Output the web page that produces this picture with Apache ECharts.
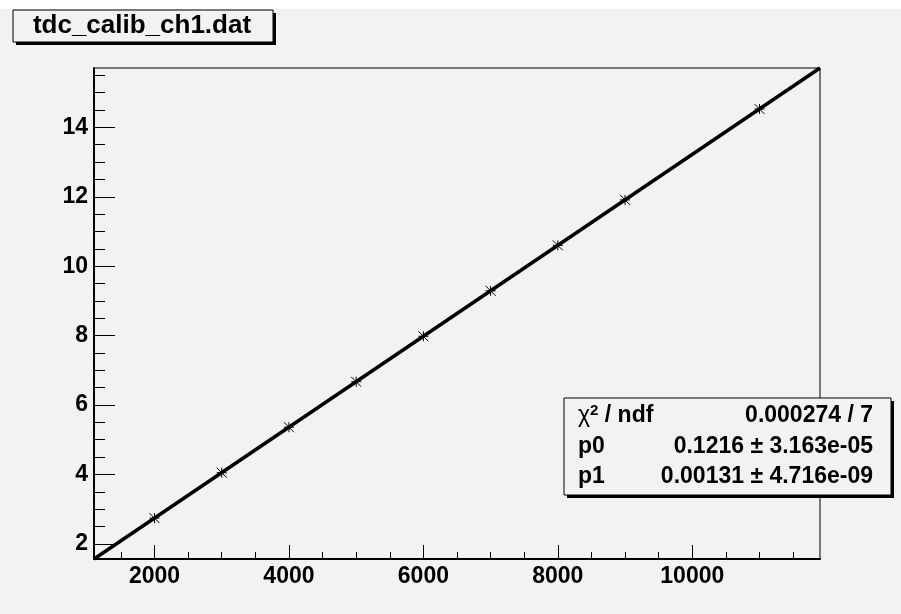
<!DOCTYPE html>
<html>
<head>
<meta charset="utf-8">
<script src="https://cdn.jsdelivr.net/npm/echarts@6/dist/echarts.min.js"></script>
<style>
  html, body { margin: 0; padding: 0; background: #f2f2f2; }
  #chart { width: 901px; height: 614px; }
</style>
</head>
<body>
<div id="chart"></div>
<script>
// Calibration points: TDC channel vs. delay
const tdcChannels = [2000, 3000, 4000, 5000, 6000, 7000, 8000, 9000, 11000];
const delayValues = [2.74, 4.05, 5.36, 6.67, 7.98, 9.29, 10.60, 11.91, 14.53];

// Linear fit parameters (pol1: p0 + p1*x)
const fitP0 = 0.1216;
const fitP1 = 0.00131;

// Axis ranges and tick marks
const xRange = [1100, 11900];
const yRange = [1.5626, 15.7106];
const xMajorTicks = [2000, 4000, 6000, 8000, 10000];
const xMinorTicks = [1500, 2000, 2500, 3000, 3500, 4000, 4500, 5000, 5500, 6000, 6500,
                     7000, 7500, 8000, 8500, 9000, 9500, 10000, 10500, 11000, 11500];
const yMajorTicks = [2, 4, 6, 8, 10, 12, 14];
const yMinorTicks = [2, 2.5, 3, 3.5, 4, 4.5, 5, 5.5, 6, 6.5, 7, 7.5, 8, 8.5, 9, 9.5, 10,
                     10.5, 11, 11.5, 12, 12.5, 13, 13.5, 14, 14.5, 15, 15.5];

// Stats box text (rich-text markup for the chi-square superscript)
const titleText = 'tdc_calib_ch1.dat';
const statLabels = ['{g|\u03C7}{s|2}{b| / ndf}', '{b|p0}', '{b|p1}'];
const statValues = ['0.000274 / 7', '0.1216 \u00B1 3.163e-05', '0.00131 \u00B1 4.716e-09'];

const FONT = "'Liberation Sans', Arial, Helvetica, sans-serif";

const chart = echarts.init(document.getElementById('chart'), null, { renderer: 'canvas' });

const points = tdcChannels.map((x, i) => [x, delayValues[i]]);
const fitLine = [xRange[0], xRange[1]].map(x => [x, fitP0 + fitP1 * x]);

const labelStyle = { color: '#000', fontFamily: FONT, fontWeight: 'bold', fontSize: 23 };

// Boxed text with a drop shadow
function shadowBox(x, y, w, h) {
  return [
    { type: 'rect', shape: { x: x + 3, y: y + 3, width: w, height: h }, style: { fill: '#000' }, z: 100 },
    { type: 'rect', shape: { x: x, y: y, width: w, height: h }, style: { fill: '#f2f2f2', stroke: '#000', lineWidth: 1 }, z: 101 }
  ];
}

const statRich = {
  g: { fontFamily: FONT, fontSize: 23, fontWeight: 'normal', fill: '#000', lineHeight: 26 },
  s: { fontFamily: FONT, fontSize: 15, fontWeight: 'bold', fill: '#000', verticalAlign: 'top', lineHeight: 26 },
  b: { fontFamily: FONT, fontSize: 23, fontWeight: 'bold', fill: '#000', lineHeight: 26 }
};

const statRowsY = [416, 447, 477];
const graphics = [
  { type: 'rect', shape: { x: 0, y: 0, width: 901, height: 9 }, style: { fill: '#ffffff' }, z: -10, silent: true },
  ...shadowBox(13, 10, 260, 32),
  { type: 'text', x: 142, y: 26, z: 102,
    style: { text: titleText, font: 'bold 26px ' + FONT, fill: '#000', align: 'center', verticalAlign: 'middle' } },
  ...shadowBox(564, 398, 327, 97)
];
statLabels.forEach((t, i) => {
  graphics.push({ type: 'text', x: 578, y: statRowsY[i], z: 102,
    style: { text: t, rich: statRich, fill: '#000', align: 'left', verticalAlign: 'middle' } });
  graphics.push({ type: 'text', x: 873, y: statRowsY[i], z: 102,
    style: { text: statValues[i], font: 'bold 23px ' + FONT, fill: '#000', align: 'right', verticalAlign: 'middle' } });
});

chart.setOption({
  backgroundColor: '#f2f2f2',
  animation: false,
  grid: { left: 94, right: 81, top: 68, bottom: 55, show: true, borderColor: '#000', borderWidth: 1, backgroundColor: 'transparent' },
  xAxis: [
    { type: 'value', min: xRange[0], max: xRange[1], position: 'bottom',
      axisLine: { show: true, lineStyle: { color: '#000', width: 2 } },
      axisTick: { show: true, inside: true, length: 14, customValues: xMajorTicks, lineStyle: { color: '#000', width: 1 } },
      axisLabel: { show: true, margin: 6, customValues: xMajorTicks, formatter: v => String(v), ...labelStyle },
      splitLine: { show: false } },
    { type: 'value', min: xRange[0], max: xRange[1], position: 'bottom',
      axisLine: { show: false },
      axisTick: { show: true, inside: true, length: 7, customValues: xMinorTicks, lineStyle: { color: '#000', width: 1 } },
      axisLabel: { show: false },
      splitLine: { show: false } }
  ],
  yAxis: [
    { type: 'value', min: yRange[0], max: yRange[1], position: 'left',
      axisLine: { show: true, lineStyle: { color: '#000', width: 2 } },
      axisTick: { show: true, inside: true, length: 21, customValues: yMajorTicks, lineStyle: { color: '#000', width: 1 } },
      axisLabel: { show: true, margin: 6, customValues: yMajorTicks, formatter: v => String(v), ...labelStyle },
      splitLine: { show: false } },
    { type: 'value', min: yRange[0], max: yRange[1], position: 'left',
      axisLine: { show: false },
      axisTick: { show: true, inside: true, length: 11, customValues: yMinorTicks, lineStyle: { color: '#000', width: 1 } },
      axisLabel: { show: false },
      splitLine: { show: false } }
  ],
  series: [
    { type: 'line', data: fitLine, xAxisIndex: 0, yAxisIndex: 0, showSymbol: false,
      lineStyle: { color: '#000', width: 3.5 }, z: 3 },
    { type: 'custom', data: points, xAxisIndex: 0, yAxisIndex: 0, z: 5,
      renderItem: function (params, api) {
        const p = api.coord([api.value(0), api.value(1)]);
        const r = 5;
        const seg = (dx1, dy1, dx2, dy2) => ({
          type: 'line',
          shape: { x1: p[0] + dx1, y1: p[1] + dy1, x2: p[0] + dx2, y2: p[1] + dy2 },
          style: { stroke: '#000', lineWidth: 1 }
        });
        return { type: 'group', children: [
          seg(-r, -r, r, r), seg(-r, r, r, -r), seg(0, -r, 0, r), seg(-r, 0, r, 0)
        ] };
      } }
  ],
  graphic: graphics
});
</script>
</body>
</html>
